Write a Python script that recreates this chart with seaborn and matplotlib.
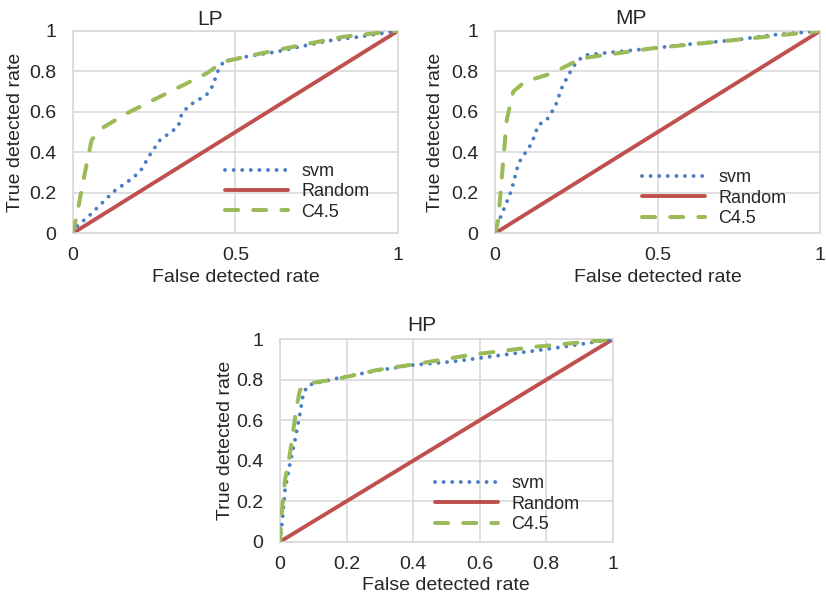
import matplotlib
matplotlib.use("Agg")
import matplotlib.pyplot as plt
from matplotlib.ticker import FuncFormatter
import seaborn as sns
import pandas as pd

# ROC points per dataset (false detected rate, true detected rate)
lp_svm_x = [0, 0.012, 0.053, 0.125, 0.176, 0.207, 0.237, 0.268, 0.324, 0.335, 0.36,
            0.411, 0.432, 0.442, 0.463, 0.534, 0.626, 0.698, 0.8, 0.882, 1]
lp_svm_y = [0, 0.033, 0.09, 0.205, 0.263, 0.304, 0.387, 0.46, 0.526, 0.592, 0.633,
            0.683, 0.732, 0.789, 0.847, 0.872, 0.896, 0.921, 0.954, 0.970, 1]
lp_c45_x = [0, 0.012, 0.033, 0.058, 0.089, 0.166, 0.248, 0.33, 0.411, 0.463, 0.555,
            0.678, 0.831, 1]
lp_c45_y = [0, 0.082, 0.263, 0.46, 0.518, 0.592, 0.658, 0.724, 0.789, 0.847, 0.88,
            0.921, 0.97, 1]

mp_svm_x = [0, 0.005, 0.026, 0.051, 0.072, 0.092, 0.113, 0.133, 0.159, 0.185, 0.205,
            0.226, 0.251, 0.277, 0.379, 0.482, 0.605, 0.738, 0.851, 1]
mp_svm_y = [0, 0.033, 0.115, 0.214, 0.346, 0.395, 0.445, 0.535, 0.56, 0.626, 0.717,
            0.783, 0.848, 0.881, 0.898, 0.914, 0.936, 0.955, 0.98, 1]
mp_c45_x = [0, 0.01, 0.021, 0.036, 0.056, 0.092, 0.174, 0.267, 0.338, 0.482, 0.636,
            0.79, 1]
mp_c45_y = [0, 0.066, 0.28, 0.56, 0.7, 0.75, 0.79, 0.865, 0.881, 0.914, 0.939,
            0.964, 1]

hp_svm_x = [0, 0.005, 0.015, 0.03, 0.045, 0.06, 0.07, 0.085, 0.17, 0.3, 0.4, 0.52,
            0.671, 0.822, 1]
hp_svm_y = [0, 0.074, 0.255, 0.387, 0.502, 0.634, 0.733, 0.774, 0.807, 0.848, 0.873,
            0.89, 0.923, 0.956, 1]
hp_c45_x = [0, 0.005, 0.015, 0.03, 0.04, 0.05, 0.06, 0.09, 0.18, 0.29, 0.42, 0.571,
            0.772, 1]
hp_c45_y = [0, 0.14, 0.305, 0.437, 0.552, 0.667, 0.75, 0.783, 0.807, 0.848, 0.881,
            0.923, 0.964, 1]

random_x = [0, 1]
random_y = [0, 1]

series_names = ["svm", "Random", "C4.5"]
yticks = [0, 0.2, 0.4, 0.6, 0.8, 1]
xticks_coarse = [0, 0.5, 1]
xticks_fine = [0, 0.2, 0.4, 0.6, 0.8, 1]

sns.set_style("white")
plt.rcParams["font.family"] = ["Liberation Sans", "DejaVu Sans"]

BLUE = "#4a7ec4"
RED = "#c0504d"
GREEN = "#9bbb59"
GRID = "#d9d9d9"
TEXT = "#262626"

fig = plt.figure(figsize=(8.26, 5.97), dpi=100)

panels = [
    dict(title="LP", rect=[0.0880, 0.6092, 0.3942, 0.3394], svm=(lp_svm_x, lp_svm_y),
         c45=(lp_c45_x, lp_c45_y), xticks=xticks_coarse, title_xy=(0.254, 0.968),
         ylab_x=-0.150, leg=(0.468, 0.205)),
    dict(title="MP", rect=[0.5993, 0.6092, 0.3935, 0.3389], svm=(mp_svm_x, mp_svm_y),
         c45=(mp_c45_x, mp_c45_y), xticks=xticks_coarse, title_xy=(0.764, 0.969),
         ylab_x=-0.157, leg=(0.452, 0.174)),
    dict(title="HP", rect=[0.3390, 0.0926, 0.4028, 0.3390], svm=(hp_svm_x, hp_svm_y),
         c45=(hp_c45_x, hp_c45_y), xticks=xticks_fine, title_xy=(0.511, 0.455),
         ylab_x=-0.138, leg=(0.466, 0.186)),
]

fmt = FuncFormatter(lambda v, _: f"{v:g}")

for p in panels:
    ax = fig.add_axes(p["rect"])
    svm_df = pd.DataFrame({"x": p["svm"][0], "y": p["svm"][1]})
    rnd_df = pd.DataFrame({"x": random_x, "y": random_y})
    c45_df = pd.DataFrame({"x": p["c45"][0], "y": p["c45"][1]})

    sns.lineplot(data=svm_df, x="x", y="y", ax=ax, color=BLUE, lw=2.8,
                 label=series_names[0], estimator=None, sort=False, zorder=3)
    sns.lineplot(data=rnd_df, x="x", y="y", ax=ax, color=RED, lw=2.8,
                 label=series_names[1], estimator=None, sort=False, zorder=2)
    sns.lineplot(data=c45_df, x="x", y="y", ax=ax, color=GREEN, lw=2.9,
                 label=series_names[2], estimator=None, sort=False, zorder=4)

    l_svm, l_rnd, l_c45 = ax.get_lines()[:3]
    l_svm.set_linestyle((0, (0.01, 2.2)))
    l_svm.set_dash_capstyle("round")
    l_c45.set_linestyle((0, (3.25, 3.75)))
    l_c45.set_dash_capstyle("round")

    ax.set_xlim(0, 1)
    ax.set_ylim(0, 1)
    ax.set_xticks(p["xticks"])
    ax.set_yticks(yticks)
    ax.xaxis.set_major_formatter(fmt)
    ax.yaxis.set_major_formatter(fmt)
    ax.tick_params(length=0, labelsize=14, colors=TEXT)
    ax.tick_params(axis="y", pad=12)
    ax.tick_params(axis="x", pad=10)
    ax.grid(True, color=GRID, lw=1.2)
    ax.set_axisbelow(True)
    for s in ax.spines.values():
        s.set_visible(True)
        s.set_color(GRID)
        s.set_linewidth(1.2)

    ax.set_xlabel("False detected rate", fontsize=14, color=TEXT)
    ax.set_ylabel("True detected rate", fontsize=14, color=TEXT)
    ax.xaxis.set_label_coords(0.5, -0.176)
    ax.yaxis.set_label_coords(p["ylab_x"], 0.5)

    leg = ax.legend(loc="center left", bbox_to_anchor=p["leg"], frameon=False,
                    fontsize=13, handlelength=3.5, handletextpad=0.72,
                    labelspacing=0.18, borderpad=0, borderaxespad=0)
    for t in leg.get_texts():
        t.set_color(TEXT)

    fig.text(p["title_xy"][0], p["title_xy"][1], p["title"], fontsize=15,
             color=TEXT, ha="center", va="center")

fig.savefig("out.png", dpi=100, facecolor="white")
